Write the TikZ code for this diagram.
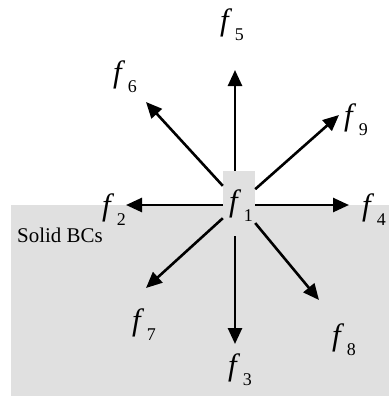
\documentclass[tikz,border=0pt]{standalone}
\usepackage{fontspec}
\setmainfont{Liberation Serif}[ItalicFont={Liberation Serif Italic}]
\usetikzlibrary{arrows.meta}
\definecolor{solidgray}{RGB}{224,224,224}
\newcommand\flab[1]{\textit{f}\kern2.5bp\raisebox{-10bp}{\fontsize{18}{18}\selectfont #1}}
\tikzset{
  arr/.style={line width=2.6bp,-{Triangle[length=16bp 0,width=14bp 0]}},
  lab/.style={inner sep=0pt,font=\fontsize{31}{31}\selectfont},
}
\begin{document}
\begin{tikzpicture}[x=1bp,y=-1bp]
\useasboundingbox (0,0) rectangle (389,397);
\fill[solidgray] (11,205) rectangle (389,396);
\node[fill=solidgray,minimum width=32bp,minimum height=65bp,inner sep=0pt] (box) at (239,203.5) {};
\coordinate (t5) at (235,70);
\coordinate (t6) at (146,102);
\coordinate (t9) at (339,115);
\coordinate (t2) at (126,205);
\coordinate (t4) at (349,205);
\coordinate (t7) at (146,288);
\coordinate (t3) at (235,344);
\coordinate (t8) at (319,300);
\draw[arr] (box.north -| t5) -- (t5);
\draw[arr] (box.south -| t3) -- (t3);
\draw[arr] (box.west |- t2) -- (t2);
\draw[arr] (box.east |- t4) -- (t4);
\draw[arr] (box) -- (t6);
\draw[arr] (box) -- (t9);
\draw[arr] (box) -- (t7);
\draw[arr] (box) -- (t8);
\node[lab] (f1) at (241,206) {\flab{1}};
\node[lab] (f2) at (114,210) {\flab{2}};
\node[lab] (f3) at (240,370) {\flab{3}};
\node[lab] (f4) at (374,210) {\flab{4}};
\node[lab] (f5) at (232,25) {\flab{5}};
\node[lab] (f6) at (125,77) {\flab{6}};
\node[lab] (f7) at (144,325) {\flab{7}};
\node[lab] (f8) at (344,340) {\flab{8}};
\node[lab] (f9) at (356,120) {\flab{9}};
\node[anchor=base west,inner sep=0pt,font=\fontsize{21}{21}\selectfont] (bc) at (17,242) {Solid BCs};
\end{tikzpicture}
\end{document}
